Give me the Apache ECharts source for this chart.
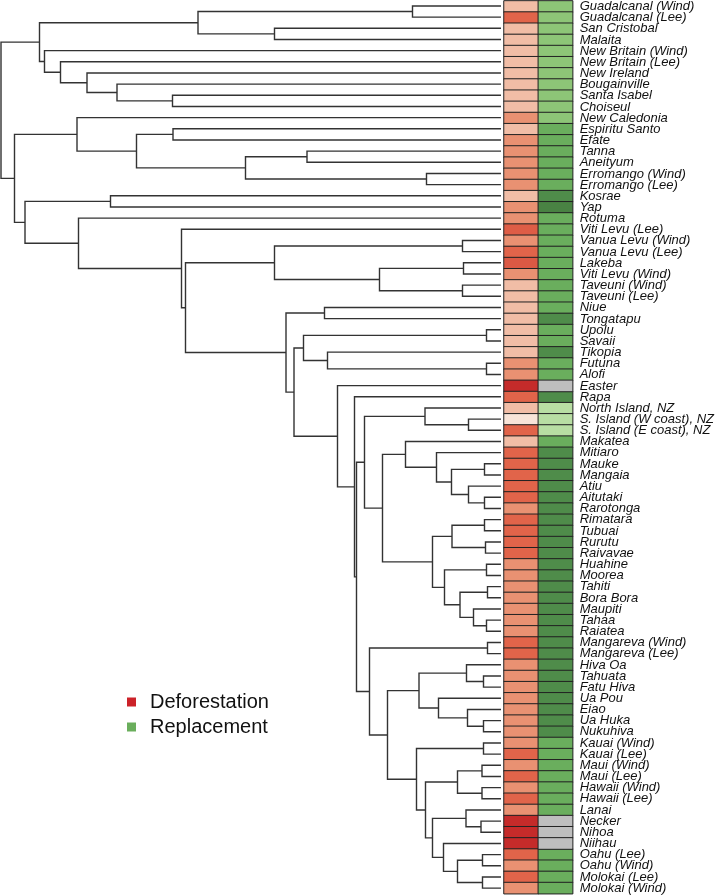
<!DOCTYPE html>
<html><head><meta charset="utf-8">
<script src="https://cdn.jsdelivr.net/npm/echarts@6/dist/echarts.min.js"></script>
<style>html,body{margin:0;padding:0;background:#fff}#c{width:717px;height:896px}</style>
</head><body><div id="c"></div>
<script>
const islands = ['Guadalcanal (Wind)','Guadalcanal (Lee)','San Cristobal','Malaita','New Britain (Wind)','New Britain (Lee)','New Ireland','Bougainville','Santa Isabel','Choiseul',
'New Caledonia','Espiritu Santo','Efate','Tanna','Aneityum','Erromango (Wind)','Erromango (Lee)','Kosrae','Yap','Rotuma',
'Viti Levu (Lee)','Vanua Levu (Wind)','Vanua Levu (Lee)','Lakeba','Viti Levu (Wind)','Taveuni (Wind)','Taveuni (Lee)','Niue','Tongatapu','Upolu',
'Savaii','Tikopia','Futuna','Alofi','Easter','Rapa','North Island, NZ','S. Island (W coast), NZ','S. Island (E coast), NZ','Makatea',
'Mitiaro','Mauke','Mangaia','Atiu','Aitutaki','Rarotonga','Rimatara','Tubuai','Rurutu','Raivavae',
'Huahine','Moorea','Tahiti','Bora Bora','Maupiti','Tahaa','Raiatea','Mangareva (Wind)','Mangareva (Lee)','Hiva Oa',
'Tahuata','Fatu Hiva','Ua Pou','Eiao','Ua Huka','Nukuhiva','Kauai (Wind)','Kauai (Lee)','Maui (Wind)','Maui (Lee)',
'Hawaii (Wind)','Hawaii (Lee)','Lanai','Necker','Nihoa','Niihau','Oahu (Lee)','Oahu (Wind)','Molokai (Lee)','Molokai (Wind)'];

const deforestation = [0.25,0.75,0.25,0.25,0.25,0.25,0.25,0.25,0.25,0.25,
0.5,0.25,0.5,0.5,0.5,0.5,0.5,0.25,0.5,0.5,
0.78,0.5,0.75,0.8,0.5,0.25,0.25,0.25,0.25,0.25,
0.25,0.25,0.5,0.5,1,0.75,0.25,0,0.75,0.25,
0.75,0.75,0.75,0.75,0.75,0.5,0.75,0.75,0.75,0.75,
0.5,0.5,0.5,0.5,0.5,0.5,0.5,0.75,0.75,0.5,
0.5,0.5,0.5,0.5,0.5,0.5,0.5,0.75,0.5,0.75,
0.5,0.75,0.5,1,1,1,0.75,0.5,0.75,0.5];

const replacement = [0.25,0.25,0.25,0.25,0.25,0.25,0.25,0.25,0.25,0.25,
0.25,0.5,0.5,0.5,0.5,0.5,0.5,0.75,0.85,0.5,
0.5,0.5,0.5,0.5,0.5,0.5,0.5,0.5,0.75,0.5,
0.5,0.75,0.5,0.5,null,0.75,0,0,0,0.5,
0.75,0.75,0.75,0.75,0.75,0.75,0.75,0.75,0.75,0.75,
0.75,0.75,0.75,0.75,0.75,0.75,0.75,0.75,0.75,0.75,
0.75,0.75,0.75,0.75,0.75,0.75,0.5,0.5,0.5,0.5,
0.5,0.5,0.5,null,null,null,0.5,0.5,0.5,0.5];

const legendLabels = ['Deforestation','Replacement'];

// dendrogram: [height, left, right]; numbers are leaf indices into islands
const tree = [100,
  [92.3,
    [60.6, [17.7, 0, 1], [45.3, 2, 3]],
    [91.3, 4, [88.1, 5, [82.8, 6, [76.8, 7, [65.7, 8, 9]]]]]
  ],
  [97.3,
    [84.8, 10, [72.9, [65.6, 11, 12], [51.1, [38.8, 13, 14], [14.9, 15, 16]]]],
    [95.2,
      [78.1, 17, 18],
      [84.5, 19,
        [63.9, 20,
          [63.1,
            [45.3, [7.7, 21, 22], [24.3, [7.5, 23, 24], [7.7, 25, 26]]],
            [43.0,
              [35.3, 27, 28],
              [41.4,
                [39.5, [2.9, 29, 30], [34.7, 31, [2.9, 32, 33]]],
                [32.7, 34,
                  [29.3, 35,
                    [28.9,
                      [27.3,
                        [15.2, 36, [6.5, 37, 38]],
                        [23.7,
                          [19.1, 39, [12.9, 40, [9.9, [3.3, 41, 42], [6.5, 43, [3.3, 44, 45]]]]],
                          [13.7, [9.8, [3.3, 46, 47], [3.1, 48, 49]],
                                 [11.3, [2.9, 50, 51], [8.2, [2.7, 52, 53], [5.5, 54, [2.9, 55, 56]]]]]
                        ]
                      ],
                      [26.3,
                        [2.7, 57, 58],
                        [22.7,
                          [16.4, [6.9, 59, [3.5, 60, 61]], [12.5, 62, [6.7, 63, [3.5, 64, 65]]]],
                          [16.9, [3.5, 66, 67],
                                 [15.1, [8.7, [3.8, 68, 69], [3.8, 70, 71]],
                                        [13.7, [7.0, 72, [4.0, 73, 74]], [11.5, 75, [8.7, [3.7, 76, 77], [3.7, 78, 79]]]]]]
                        ]
                      ]
                    ]
                  ]
                ]
              ]
            ]
          ]
        ]
      ]
    ]
  ]
];

// ---- build series data ----
const links = [];
function walk(n) {
  if (typeof n === 'number') return { h: 0, y: n };
  const a = walk(n[1]), b = walk(n[2]);
  links.push([n[0], a.y, b.y, a.h, b.h]);
  return { h: n[0], y: (a.y + b.y) / 2 };
}
walk(tree);

const deforData = deforestation.map((v, i) => [0, i, v]);
const replData = [], naData = [];
replacement.forEach((v, i) => { if (v === null) naData.push([1, i, 1]); else replData.push([1, i, v]); });

const FONT = "'Liberation Sans', Arial, Helvetica, sans-serif";
const chart = echarts.init(document.getElementById('c'), null, { renderer: 'canvas' });
chart.setOption({
  animation: false,
  backgroundColor: '#fff',
  textStyle: { fontFamily: FONT },
  grid: [
    { left: 1, width: 500, top: 0.4, height: 893.3 },
    { left: 504, width: 70.7, top: 0.4, height: 893.3 }
  ],
  xAxis: [
    { gridIndex: 0, type: 'value', min: 0, max: 100, inverse: true, show: false },
    { gridIndex: 1, type: 'category', data: legendLabels, show: false }
  ],
  yAxis: [
    { gridIndex: 0, type: 'value', min: -0.5, max: 79.5, inverse: true, show: false },
    { gridIndex: 1, type: 'category', data: islands, inverse: true, position: 'right',
      axisLine: { show: false }, axisTick: { show: false }, splitLine: { show: false },
      axisLabel: { interval: 0, fontStyle: 'italic', fontSize: 13, color: '#111', margin: 7, fontFamily: FONT } }
  ],
  visualMap: [
    { type: 'continuous', show: false, seriesIndex: 1, min: 0, max: 1,
      inRange: { color: ['#F8E4D8', '#F1BDA6', '#E99172', '#E1644A', '#C52B2A'] } },
    { type: 'continuous', show: false, seriesIndex: 2, min: 0, max: 1,
      inRange: { color: ['#B8DEA3', '#8DC577', '#6AAE5D', '#4F8C4A', '#3F7339'] } }
  ],
  legend: {
    orient: 'vertical', left: 127, top: 692, padding: 0, itemGap: 5,
    itemWidth: 9, itemHeight: 9, icon: 'rect',
    selectedMode: false,
    textStyle: { fontSize: 20, color: '#111', lineHeight: 20, fontFamily: FONT, padding: [0, 0, 0, 9] },
    data: [
      { name: 'Deforestation', itemStyle: { color: '#CC2229', borderWidth: 0 } },
      { name: 'Replacement', itemStyle: { color: '#6AAE5C', borderWidth: 0 } }
    ]
  },
  series: [
    {
      type: 'custom', name: 'tree', xAxisIndex: 0, yAxisIndex: 0, silent: true,
      data: links, encode: { x: [0, 3, 4], y: [1, 2] },
      renderItem: function (params, api) {
        const h = api.value(0), ya = api.value(1), yb = api.value(2), ha = api.value(3), hb = api.value(4);
        return {
          type: 'polyline',
          shape: { points: [api.coord([ha, ya]), api.coord([h, ya]), api.coord([h, yb]), api.coord([hb, yb])] },
          style: { stroke: '#333', lineWidth: 1.4, fill: null }
        };
      }
    },
    { type: 'heatmap', name: 'Deforestation', xAxisIndex: 1, yAxisIndex: 1, data: deforData,
      itemStyle: { borderColor: '#222', borderWidth: 1 } },
    { type: 'heatmap', name: 'Replacement', xAxisIndex: 1, yAxisIndex: 1, data: replData,
      itemStyle: { borderColor: '#222', borderWidth: 1 } },
    { type: 'heatmap', name: 'No data', xAxisIndex: 1, yAxisIndex: 1, data: naData,
      itemStyle: { color: '#BEBEBE', borderColor: '#222', borderWidth: 1 } }
  ]
});
</script></body></html>
